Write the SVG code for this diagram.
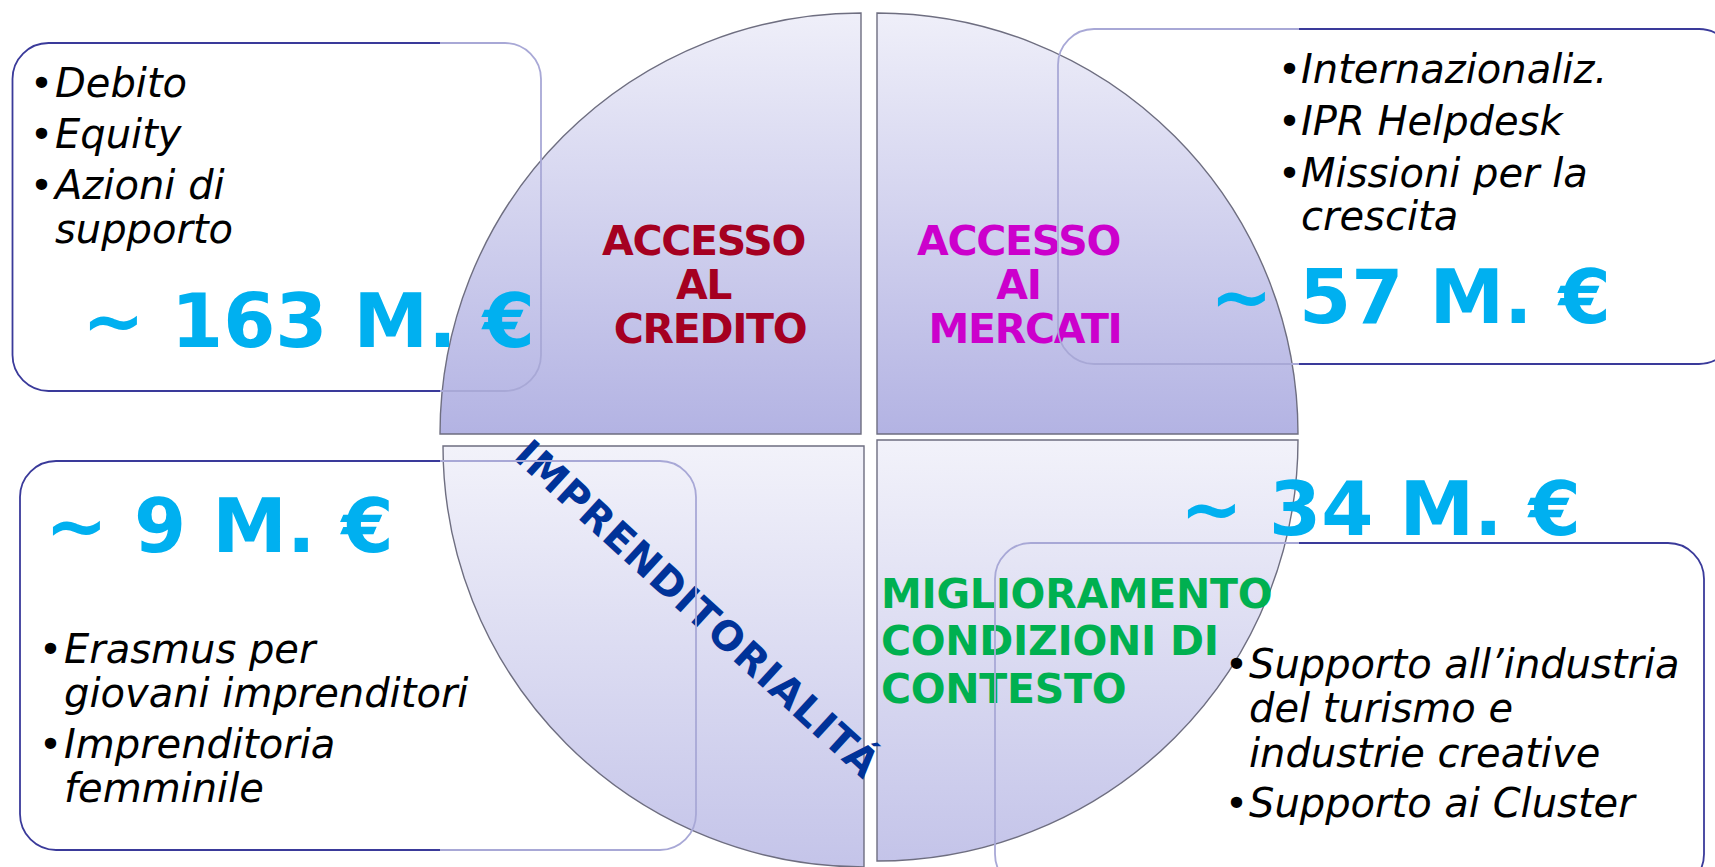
<svg xmlns="http://www.w3.org/2000/svg" width="1715" height="867" viewBox="0 0 1715 867">
  <defs>
    <linearGradient id="gTop" x1="0" y1="0" x2="0" y2="1">
      <stop offset="0" stop-color="#efeff9"/>
      <stop offset="1" stop-color="#b3b3e3"/>
    </linearGradient>
    <linearGradient id="gBot" x1="0" y1="0" x2="0" y2="1">
      <stop offset="0" stop-color="#f2f2fa"/>
      <stop offset="1" stop-color="#c4c4e9"/>
    </linearGradient>
    <linearGradient id="gStroke" gradientUnits="userSpaceOnUse" x1="0" y1="0" x2="1715" y2="0">
      <stop offset="0" stop-color="#3a3a9a"/>
      <stop offset="0.2563" stop-color="#3a3a9a"/>
      <stop offset="0.2563" stop-color="#a8a8d6"/>
      <stop offset="0.7572" stop-color="#a8a8d6"/>
      <stop offset="0.7572" stop-color="#3a3a9a"/>
      <stop offset="1" stop-color="#3a3a9a"/>
    </linearGradient>
    <style>
      .quad { stroke: #6e6e80; stroke-width: 1.4; }
      .box { fill: none; stroke: url(#gStroke); stroke-width: 1.8; }
      .lbl { font-family: "DejaVu Sans", Verdana, sans-serif; font-weight: bold; font-size: 41px; letter-spacing: -1.3px; }
      .lblg { font-family: "DejaVu Sans", Verdana, sans-serif; font-weight: bold; font-size: 41px; letter-spacing: -0.3px; }
      .lbld { font-family: "DejaVu Sans", Verdana, sans-serif; font-weight: bold; font-size: 40px; letter-spacing: 1.2px; }
      .it { font-family: "DejaVu Sans", Verdana, sans-serif; font-style: italic; font-size: 40px; fill: #000; }
      .bul { font-family: "DejaVu Sans", Verdana, sans-serif; font-size: 39px; fill: #000; }
      .amt { font-family: "DejaVu Sans", Verdana, sans-serif; font-weight: bold; font-size: 75px; fill: #00b0f0; }
    </style>
  </defs>

  <g id="connectors"/>

  <g id="quadrant-credito">
    <path class="quad" fill="url(#gTop)" d="M861,434 L440,434 A421,421 0 0 1 861,13 Z"/>
    <text class="lbl" fill="#a50021" text-anchor="middle">
      <tspan x="710" y="255">ACCESSO</tspan>
      <tspan x="710" y="299">AL</tspan>
      <tspan x="710" y="343">CREDITO</tspan>
    </text>
  </g>

  <g id="quadrant-mercati">
    <path class="quad" fill="url(#gTop)" d="M877,434 L877,13 A421,421 0 0 1 1298,434 Z"/>
    <text class="lbl" fill="#cc00cc" text-anchor="middle">
      <tspan x="1025" y="255">ACCESSO</tspan>
      <tspan x="1025" y="299">AI</tspan>
      <tspan x="1025" y="343">MERCATI</tspan>
    </text>
  </g>

  <g id="quadrant-contesto">
    <path class="quad" fill="url(#gBot)" d="M877,440 L1298,440 A421,421 0 0 1 877,861 Z"/>
    <text class="lblg" fill="#00b050">
      <tspan x="881" y="608">MIGLIORAMENTO</tspan>
      <tspan x="881" y="655">CONDIZIONI DI</tspan>
      <tspan x="881" y="703">CONTESTO</tspan>
    </text>
  </g>

  <g id="quadrant-imprenditorialita">
    <path class="quad" fill="url(#gBot)" d="M864,446 L864,867 A421,421 0 0 1 443,446 Z"/>
    <text class="lbld" fill="#003399" transform="translate(512,458) rotate(42.5)" x="0" y="0">IMPRENDITORIALITÁ</text>
  </g>

  <g id="box-credito">
    <rect class="box" x="12.5" y="43" width="528.5" height="348" rx="36" ry="36"/>
    <text class="bul" x="30" y="97">•</text>
    <text class="it" x="55" y="97">Debito</text>
    <text class="bul" x="30" y="148">•</text>
    <text class="it" x="55" y="148">Equity</text>
    <text class="bul" x="30" y="199">•</text>
    <text class="it" x="55" y="199">Azioni di</text>
    <text class="it" x="55" y="243">supporto</text>
    <text class="amt" x="82" y="347">~ 163 M. €</text>
  </g>

  <g id="box-mercati">
    <rect class="box" x="1058" y="29" width="677" height="335" rx="36" ry="36"/>
    <text class="bul" x="1278" y="83">•</text>
    <text class="it" x="1301" y="83">Internazionaliz.</text>
    <text class="bul" x="1278" y="135">•</text>
    <text class="it" x="1301" y="135">IPR Helpdesk</text>
    <text class="bul" x="1278" y="187">•</text>
    <text class="it" x="1301" y="187">Missioni per la</text>
    <text class="it" x="1301" y="230">crescita</text>
    <text class="amt" x="1210" y="323">~ 57 M. €</text>
  </g>

  <g id="box-imprenditorialita">
    <rect class="box" x="20" y="461" width="676" height="389" rx="36" ry="36"/>
    <text class="amt" x="45" y="552">~ 9 M. €</text>
    <text class="bul" x="39" y="663">•</text>
    <text class="it" x="64" y="663">Erasmus per</text>
    <text class="it" x="64" y="707">giovani imprenditori</text>
    <text class="bul" x="39" y="758">•</text>
    <text class="it" x="64" y="758">Imprenditoria</text>
    <text class="it" x="64" y="802">femminile</text>
  </g>

  <g id="box-contesto">
    <rect class="box" x="995" y="543" width="709" height="347" rx="36" ry="36"/>
    <text class="amt" x="1180" y="535">~ 34 M. €</text>
    <text class="bul" x="1225" y="678">•</text>
    <text class="it" x="1249" y="678">Supporto all’industria</text>
    <text class="it" x="1249" y="722">del turismo e</text>
    <text class="it" x="1249" y="767">industrie creative</text>
    <text class="bul" x="1225" y="817">•</text>
    <text class="it" x="1249" y="817">Supporto ai Cluster</text>
  </g>
</svg>
